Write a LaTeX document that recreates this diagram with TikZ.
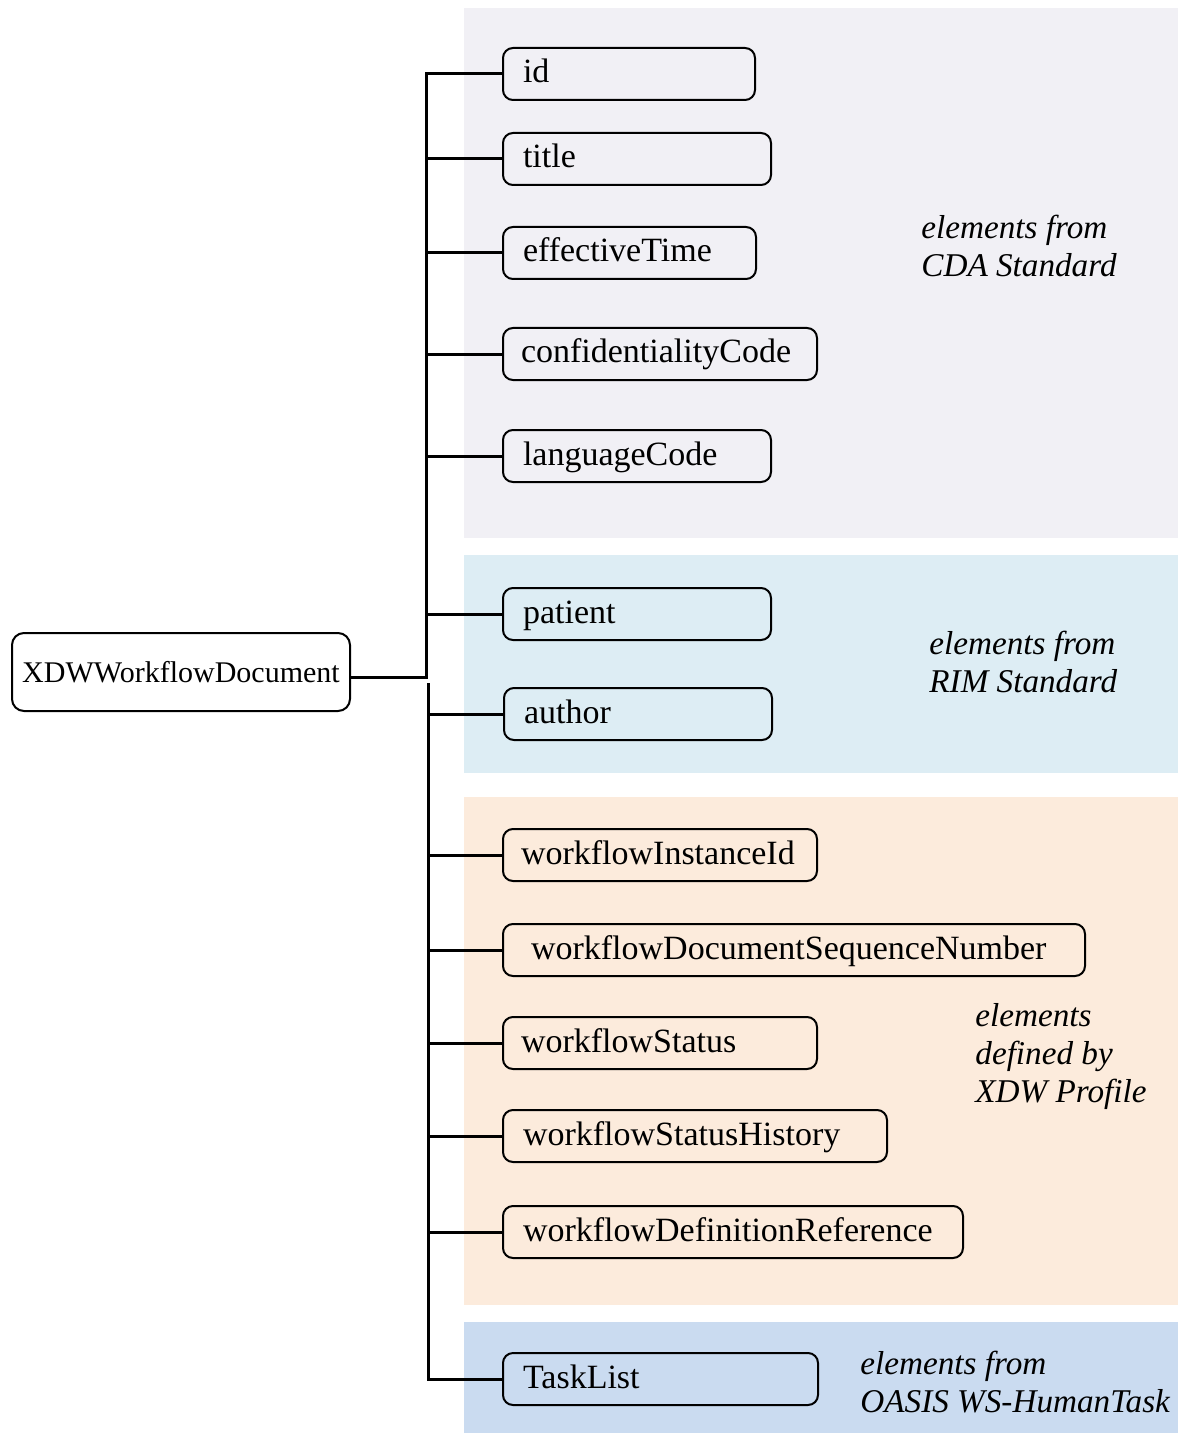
\documentclass[tikz,border=0pt]{standalone}
\usepackage{fontspec}
\setmainfont{Liberation Serif}
\usepackage{tikz}
\usetikzlibrary{positioning}

\definecolor{cdagray}{RGB}{241,240,245}
\definecolor{rimblue}{RGB}{221,237,244}
\definecolor{xdwpeach}{RGB}{252,235,220}
\definecolor{oasisblue}{RGB}{202,219,240}

\tikzset{
	elem/.style={draw, line width=1pt, rounded corners=5pt, anchor=west,
		minimum height=26pt, inner xsep=10pt, inner ysep=0pt, align=left,
		font=\fontsize{17}{19}\selectfont, text height=12pt, text depth=3pt},
	rootbox/.style={draw, line width=1pt, rounded corners=6pt, anchor=west,
		minimum height=39pt, minimum width=169pt, inner xsep=3pt,
		font=\fontsize{15}{18}\selectfont},
	note/.style={anchor=west, align=left, inner sep=0pt,
		font=\fontsize{16.6}{19}\selectfont\itshape},
	link/.style={line width=1.5pt},
}

\begin{document}
\begin{tikzpicture}[x=0.5pt, y=-0.5pt]
		\useasboundingbox (0,0) rectangle (1180,1433);
		% background panels
		\fill[cdagray]   (464,8)    rectangle (1178,538);
		\fill[rimblue]   (464,555)  rectangle (1178,773);
		\fill[xdwpeach]  (464,797)  rectangle (1178,1305);
		\fill[oasisblue] (464,1322) rectangle (1178,1433);

		\draw 
			(11,672) node [rootbox] (root) {XDWWorkflowDocument}
			(502,74) node [elem, text width=106pt] (id) {id}
			(502,159) node [elem, text width=114pt] (title) {title}
			(502,253) node [elem, text width=106.5pt] (effTime) {effectiveTime}
			(502,354) node [elem, text width=139pt, inner xsep=9pt] (confCode) {confidentialityCode}
			(502,456) node [elem, text width=114pt] (langCode) {languageCode}
			(502,614) node [elem, text width=114pt] (patient) {patient}
			(503,714) node [elem, text width=114pt] (author) {author}
			(502,855) node [elem, text width=139pt, inner xsep=9pt] (wfInstId) {workflowInstanceId}
			(502,950) node [elem, text width=263pt, inner xsep=14pt] (wfSeqNum) {workflowDocumentSequenceNumber}
			(502,1043) node [elem, text width=139pt, inner xsep=9pt] (wfStatus) {workflowStatus}
			(502,1136) node [elem, text width=172pt] (wfHistory) {workflowStatusHistory}
			(502,1232) node [elem, text width=210pt] (wfDefRef) {workflowDefinitionReference}
			(502,1379) node [elem, text width=137.5pt] (taskList) {TaskList}
			;

		% group notes
		\node [note] (cdaNote) at (921,246) {elements from\\CDA Standard};
		\node [note] (rimNote) at (929,662) {elements from\\RIM Standard};
		\node [note] (xdwNote) at (975,1057) {elements\\defined by\\XDW Profile};
		\node [note] (oasisNote) at (860,1382) {elements from\\OASIS WS-HumanTask};

		% tree connectors
		\coordinate (jtop) at (426,677);
		\coordinate (jlow) at (428,683);
		\draw[link] (jtop -| root.east) -- (jtop) |- (id.west);
		\foreach \n in {title,effTime,confCode,langCode,patient}
			\draw[link] (jtop |- \n.west) -- (\n.west);
		\draw[link] (jlow) |- (taskList.west);
		\foreach \n in {author,wfInstId,wfSeqNum,wfStatus,wfHistory,wfDefRef}
			\draw[link] (jlow |- \n.west) -- (\n.west);
	\end{tikzpicture}
\end{document}
